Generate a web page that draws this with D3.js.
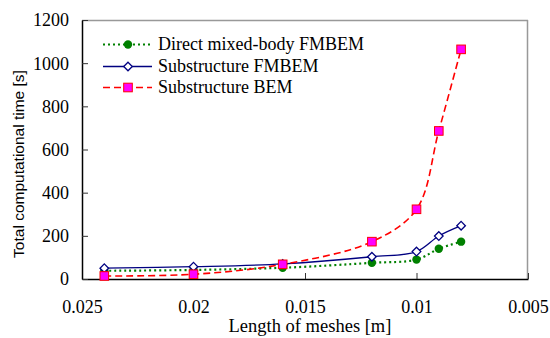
<!DOCTYPE html>
<html><head><meta charset="utf-8">
<script src="https://cdn.jsdelivr.net/npm/d3@7"></script>
<style>body{margin:0;background:#fff}svg{display:block}
.serif{font-family:'Liberation Serif','Times New Roman',serif}
.sans{font-family:'Liberation Sans',Arial,sans-serif}</style>
</head><body><svg id="c" width="550" height="338"></svg>
<script>
const meshLengths = [0.024, 0.02, 0.016, 0.012, 0.01, 0.009, 0.008];
const directFMBEM = [38, 42, 52, 75, 90, 140, 173];
const subFMBEM = [50, 57, 70, 103, 127, 199, 247];
const subBEM = [14, 22, 68, 173, 323, 686, 1064];
const xTicks = [0.025, 0.02, 0.015, 0.01, 0.005];
const yTicks = [0, 200, 400, 600, 800, 1000, 1200];
const seriesNames = ["Direct mixed-body FMBEM", "Substructure FMBEM", "Substructure BEM"];

const svg = d3.select("#c");
const L = 82, R = 528, T = 20, B = 279;
const x = d3.scaleLinear().domain([0.025, 0.005]).range([L, R]);
const y = d3.scaleLinear().domain([0, 1200]).range([B, T]);

// frame
svg.append("line").attr("x1", L).attr("x2", R).attr("y1", T+0.5).attr("y2", T+0.5).attr("stroke", "#999").attr("stroke-width", 1.5);
svg.append("line").attr("x1", R-0.5).attr("x2", R-0.5).attr("y1", T).attr("y2", B).attr("stroke", "#999").attr("stroke-width", 1.5);

const xAxis = svg.append("g").attr("transform", `translate(0,${B})`)
  .call(d3.axisBottom(x).tickValues(xTicks).tickSizeInner(-6).tickSizeOuter(0).tickFormat(d => String(+d.toFixed(3))));
const yAxis = svg.append("g").attr("transform", `translate(${L},0)`)
  .call(d3.axisLeft(y).tickValues(yTicks).tickSizeInner(-6).tickSizeOuter(0).tickFormat(d3.format("d")));
[xAxis, yAxis].forEach(g => {
  g.attr("font-family", null).attr("font-size", null);
  g.select(".domain").attr("stroke", "#000").attr("stroke-width", 1.5);
  g.selectAll(".tick line").attr("stroke", "#333").attr("stroke-width", 1);
  g.selectAll(".tick text").attr("class", "serif").style("font-size", "18px").attr("fill", "#000");
});
xAxis.selectAll(".tick text").attr("dy", null).attr("y", 34);
yAxis.selectAll(".tick text").attr("x", -13).attr("dy", "0.33em");

svg.append("text").attr("class", "serif").attr("x", 310).attr("y", 332).attr("text-anchor", "middle")
  .style("font-size", "18.5px").text("Length of meshes [m]");
svg.append("text").attr("class", "sans").attr("transform", "translate(24,164) rotate(-90)").attr("text-anchor", "middle")
  .style("font-size", "15.5px").text("Total computational time [s]");

const series = [
  {name: seriesNames[0], vals: directFMBEM, color: "#008000", dash: "2,3", width: 2.2, marker: "circle"},
  {name: seriesNames[1], vals: subFMBEM, color: "#000080", dash: null, width: 1.3, marker: "diamond"},
  {name: seriesNames[2], vals: subBEM, color: "#ff0000", dash: "7,4", width: 1.6, marker: "square"}
];
const line = d3.line().x((d,i) => x(meshLengths[i])).y(d => y(d)).curve(d3.curveCatmullRom.alpha(0.5));

function drawMarker(g, type, cx, cy) {
  if (type === "circle") g.append("circle").attr("cx", cx).attr("cy", cy).attr("r", 4.2).attr("fill", "#008000");
  else if (type === "diamond") g.append("path").attr("d", `M${cx},${cy-4.3}L${cx+4.3},${cy}L${cx},${cy+4.3}L${cx-4.3},${cy}Z`).attr("fill", "#fff").attr("stroke", "#000080").attr("stroke-width", 1.3);
  else g.append("rect").attr("x", cx-4.3).attr("y", cy-4.3).attr("width", 8.6).attr("height", 8.6).attr("fill", "#ff00ff").attr("stroke", "#ff0000").attr("stroke-width", 1);
}

series.forEach(s => {
  svg.append("path").datum(s.vals).attr("d", line).attr("fill", "none").attr("stroke", s.color)
    .attr("stroke-width", s.width).attr("stroke-dasharray", s.dash);
});
series.forEach(s => {
  const g = svg.append("g");
  s.vals.forEach((v,i) => drawMarker(g, s.marker, x(meshLengths[i]), y(v)));
});

// legend
const legY = [44.5, 66.5, 87.5];
series.forEach((s, i) => {
  const g = svg.append("g");
  g.append("line").attr("x1", 103).attr("x2", 152).attr("y1", legY[i]).attr("y2", legY[i])
    .attr("stroke", s.color).attr("stroke-width", s.width).attr("stroke-dasharray", s.dash);
  drawMarker(g, s.marker, 128, legY[i]);
  g.append("text").attr("class", "serif").attr("x", 158).attr("y", legY[i]).attr("dy", "0.33em")
    .style("font-size", "18px").text(s.name);
});
</script></body></html>
